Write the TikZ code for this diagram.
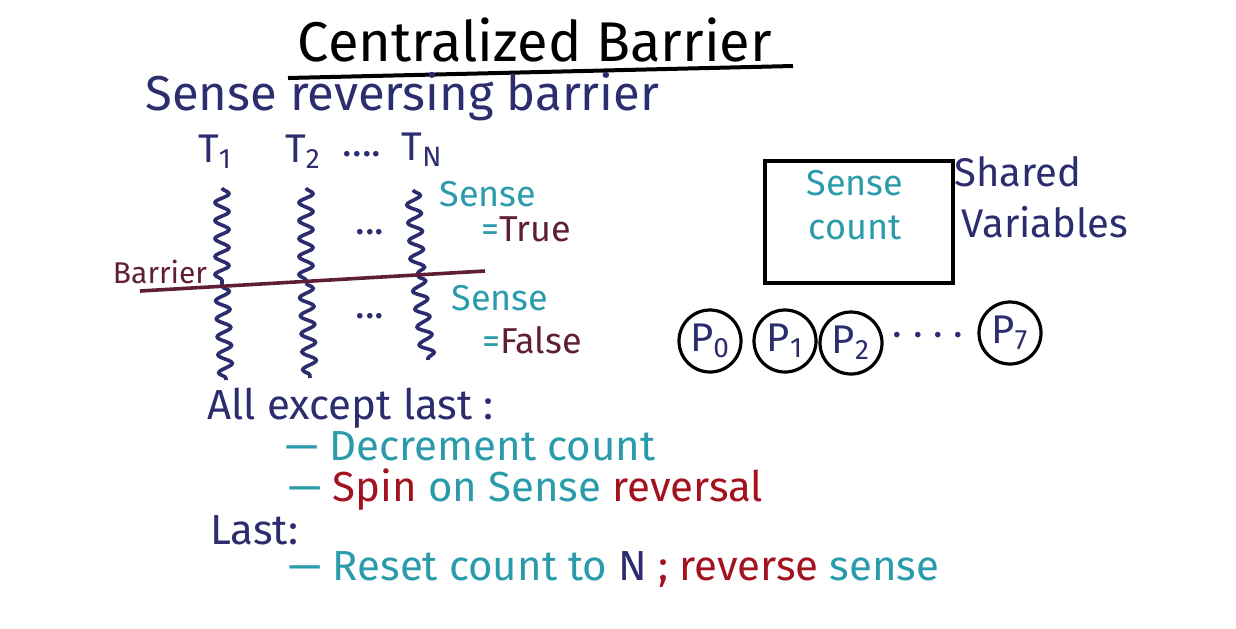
\documentclass[tikz,border=0pt]{standalone}
\usepackage{fontspec}
\setmainfont{Fira Sans}
\usetikzlibrary{positioning,decorations.pathmorphing}
\definecolor{inknavy}{HTML}{2B2D6E}
\definecolor{inkteal}{HTML}{2A9BAA}
\definecolor{inkmaroon}{HTML}{5E1F33}
\definecolor{inkred}{HTML}{A3121F}
\tikzset{
  titletext/.style={font=\fontsize{28}{32}\selectfont,inner sep=0pt},
  navytext/.style={text=inknavy,font=\fontsize{20}{24}\selectfont,inner sep=0pt},
  tealtext/.style={text=inkteal,font=\fontsize{18}{22}\selectfont,inner sep=0pt},
  maroontext/.style={text=inkmaroon,font=\fontsize{18}{22}\selectfont,inner sep=0pt},
  listtext/.style={font=\fontsize{21}{24}\selectfont,inner sep=0pt,anchor=west},
  thread/.style={line width=1.8pt,inknavy,decorate,
    decoration={snake,amplitude=3.5pt,segment length=9pt}},
  barrierline/.style={line width=1.8pt,inkmaroon},
  sharedbox/.style={draw,line width=1.8pt,minimum width=94pt,minimum height=61pt},
  procnode/.style={circle,draw,line width=1.6pt,minimum size=31pt,inner sep=0pt,
    text=inknavy,font=\fontsize{20}{24}\selectfont}
}

\begin{document}
\begin{tikzpicture}[x=0.5pt,y=-0.5pt]
\useasboundingbox (0,0) rectangle (1236,628);

% Title and underline
\node[titletext] (title) at (535,40) {Centralized Barrier};
\coordinate (ulA) at (288,78);
\coordinate (ulB) at (793,66);
\draw[line width=2pt] (ulA) -- (ulB);

\node[navytext,anchor=west,font=\fontsize{24.5}{28}\selectfont] (subtitle) at (145,97) {Sense reversing barrier};

% Threads
\node[navytext] (T1) at (215,152) {T\textsubscript{1}};
\node[navytext] (T2) at (303,152) {T\textsubscript{2}};
\node[navytext] (tdots) at (362,154) {....};
\node[navytext] (TN) at (422,150) {T\textsubscript{N}};

\coordinate (w1a) at (222,188);
\coordinate (w1b) at (222,286);
\coordinate (w1c) at (226,380);
\coordinate (w2a) at (306,188);
\coordinate (w2b) at (306,283);
\coordinate (w2c) at (310,378);
\coordinate (w3a) at (413,190);
\coordinate (w3b) at (418,276);
\coordinate (w3c) at (428,360);

\draw[thread] (w1a) -- (w1b);
\draw[thread] (w1b) -- (w1c);
\draw[thread] (w2a) -- (w2b);
\draw[thread] (w2b) -- (w2c);
\draw[thread] (w3a) -- (w3b);
\draw[thread] (w3b) -- (w3c);

\node[navytext] (updots) at (370,232) {...};
\node[navytext] (lowdots) at (370,316) {...};

% Barrier
\coordinate (barL) at (140,291);
\coordinate (barR) at (485,271);
\draw[barrierline] (barL) -- (barR);
\node[maroontext,font=\fontsize{15}{18}\selectfont] (barlabel) at (160,272) {Barrier};

% Sense values
\node[tealtext] (senseT) at (488,194) {Sense};
\node[maroontext] (trueval) at (526,229) {\textcolor{inkteal}{=}True};
\node[tealtext] (senseF) at (500,298) {Sense};
\node[maroontext] (falseval) at (532,340) {\textcolor{inkteal}{=}False};

% Shared variables
\node[sharedbox] (box) at (859,222) {};
\node[tealtext] (boxsense) at (855,183) {Sense};
\node[tealtext] (boxcount) at (855,228) {count};
\node[navytext] (shared) at (1018,172) {Shared};
\node[navytext] (variables) at (1045,222) {Variables};

% Processors
\node[procnode] (P0) at (710,341) {P\textsubscript{0}};
\node[procnode] (P1) at (785,341) {P\textsubscript{1}};
\node[procnode] (P2) at (851,343) {P\textsubscript{2}};
\node[navytext] (pdots) at (928,340) {· · · ·};
\node[procnode] (P7) at (1010,333) {P\textsubscript{7}};

% Protocol
\node[listtext,text=inknavy] (allbut) at (207,408) {All except last :};
\node[listtext,text=inkteal] (decr) at (285,446) {— Decrement count};
\node[listtext,text=inkteal] (spin) at (288,490) {— \textcolor{inkred}{Spin} on Sense \textcolor{inkred}{reversal}};
\node[listtext,text=inknavy] (last) at (210,530) {Last:};
\node[listtext,text=inkteal] (reset) at (288,570) {— Reset count to \textcolor{inknavy}{N} \textcolor{inkred}{; reverse} sense};

\end{tikzpicture}
\end{document}
